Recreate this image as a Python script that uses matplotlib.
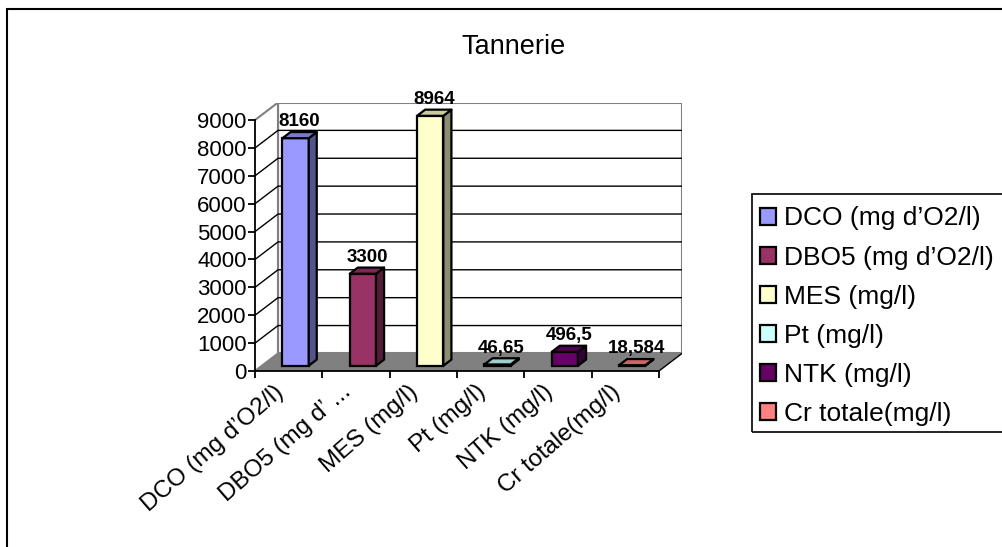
import matplotlib.pyplot as plt
import matplotlib.transforms as mtransforms
from matplotlib.patches import Polygon, Rectangle
import numpy as np

plt.rcParams['font.family'] = ['Liberation Sans', 'DejaVu Sans']

# data
title = 'Tannerie'
categories = ['DCO (mg d\u2019O2/l)', 'DBO5 (mg d\u2019 ...', 'MES (mg/l)',
              'Pt (mg/l)', 'NTK (mg/l)', 'Cr totale(mg/l)']
legend_labels = ['DCO (mg d\u2019O2/l)', 'DBO5 (mg d\u2019O2/l)', 'MES (mg/l)',
                 'Pt (mg/l)', 'NTK (mg/l)', 'Cr totale(mg/l)']
values = [8160, 3300, 8964, 46.65, 496.5, 18.584]
value_labels = ['8160', '3300', '8964', '46,65', '496,5', '18,584']
colors = ['#9999FF', '#993366', '#FFFFCC', '#CCFFFF', '#660066', '#FF8080']
yticks = list(range(0, 9001, 1000))


def shade(c, f):
    r, g, b = plt.matplotlib.colors.to_rgb(c)
    return (r * f, g * f, b * f)


W, H = 1002, 547
fig = plt.figure(figsize=(W / 100, H / 100), dpi=100)

# axes in pixel terms: front axis x 255..659, back wall up to 682; y 0 at 371
DX = 0.342        # depth offset in category units
DY = 630.0        # depth offset in value units
ymax = 9000
left_px, right_px = 255, 682
bottom_px, top_px = 371, 102.5
ax = fig.add_axes([left_px / W, 1 - bottom_px / H,
                   (right_px - left_px) / W, (bottom_px - top_px) / H])
n = len(values)
ax.set_xlim(0, n + DX)
ax.set_ylim(0, ymax + DY)
ax.patch.set_visible(False)

# floor
ax.add_patch(Polygon([(0, 0), (n, 0), (n + DX, DY), (DX, DY)],
                     closed=True, facecolor='#808080', edgecolor='none', zorder=1))
ax.plot([n, n + DX], [0, DY], color='black', lw=1, zorder=2)
# back wall
ax.add_patch(Rectangle((DX, DY), n, ymax, facecolor='white',
                       edgecolor='#808080', lw=1.5, zorder=0.5))
# left wall outline
ax.plot([0, DX, DX], [ymax, ymax + DY, DY], color='#808080', lw=1.5, zorder=1)
ax.plot([0, DX], [0, DY], color='#808080', lw=1.5, zorder=1)
for v in yticks[1:-1]:
    ax.plot([0, DX, n + DX], [v, v + DY, v + DY], color='black', lw=1, zorder=1)

# bars
w = 0.39
d1, d2 = 0.3, 0.65
xc = np.arange(n) + 0.5 + d1 * DX
ax.bar(xc, values, width=w, bottom=d1 * DY, color=colors,
       edgecolor='black', linewidth=1.6, zorder=3)
for i, v in enumerate(values):
    x0 = xc[i] - w / 2
    x1 = xc[i] + w / 2
    y0 = d1 * DY
    y1 = v + d1 * DY
    ddx = (d2 - d1) * DX
    ddy = (d2 - d1) * DY
    side = [(x1, y0), (x1 + ddx, y0 + ddy), (x1 + ddx, y1 + ddy), (x1, y1)]
    top = [(x0, y1), (x1, y1), (x1 + ddx, y1 + ddy), (x0 + ddx, y1 + ddy)]
    ax.add_patch(Polygon(side, closed=True, facecolor=shade(colors[i], 0.55),
                         edgecolor='black', lw=1.6, joinstyle='round', zorder=3))
    ax.add_patch(Polygon(top, closed=True, facecolor=shade(colors[i], 0.8),
                         edgecolor='black', lw=1.6, joinstyle='round', zorder=3))
    ax.text(xc[i] + ddx / 2, y1 + ddy + 60, value_labels[i], ha='center',
            va='bottom', fontsize=13.5, fontweight='bold', zorder=4)

# axes styling
for s in ['top', 'right']:
    ax.spines[s].set_visible(False)
ax.spines['left'].set_bounds(0, ymax)
ax.spines['bottom'].set_bounds(0, n)
ax.spines['left'].set_linewidth(1.3)
ax.spines['bottom'].set_linewidth(1.3)
ax.spines['left'].set_zorder(5)
ax.spines['bottom'].set_zorder(5)
ax.set_yticks(yticks)
ax.set_yticklabels([str(t) for t in yticks], fontsize=16)
ax.tick_params(axis='y', length=5, width=1.3, pad=1)
ax.set_xticks(range(n + 1))
ax.set_xticklabels([''] * (n + 1))
ax.tick_params(axis='x', length=5, width=1.3)
ax.set_xticks(np.arange(n) + 0.5, minor=True)
ax.set_xticklabels(categories, minor=True, rotation=41, ha='right',
                   va='center', rotation_mode='anchor', fontsize=17.5)
ax.tick_params(axis='x', which='minor', length=0, pad=13)
offset = mtransforms.ScaledTranslation(-8 / 100, 0, fig.dpi_scale_trans)
for lab in ax.get_xticklabels(minor=True):
    lab.set_transform(lab.get_transform() + offset)

fig.text(514 / W, 1 - 47 / H, title, ha='center', va='center', fontsize=19.5)

# legend
handles = [Rectangle((0, 0), 1, 1, facecolor=c, edgecolor='black', lw=1.6)
           for c in colors]
leg = fig.legend(handles, legend_labels, loc='upper left',
                 bbox_to_anchor=(742 / W, 1 - 188 / H), frameon=False,
                 fontsize=19, handlelength=0.6, handleheight=0.6,
                 handletextpad=0.3, labelspacing=0.57, borderpad=0.2)
fig.patches.append(Rectangle((752 / W, 1 - 432 / H), 260 / W, 238 / H,
                             transform=fig.transFigure, fill=False,
                             edgecolor='black', lw=1.2))

# chart area border
fig.patches.append(Rectangle((7 / W, -0.05), 1.1, 1 - 9 / H + 0.05,
                             transform=fig.transFigure, fill=False,
                             edgecolor='black', lw=1.5))

fig.savefig('out.png', dpi=100)
